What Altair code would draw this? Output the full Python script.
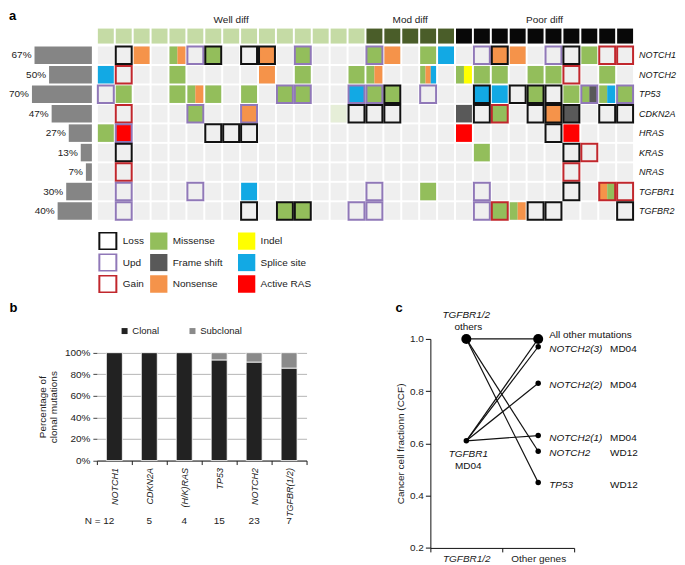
import altair as alt
import pandas as pd

FONT = "Liberation Sans"

# ---------------- panel a : oncoprint ----------------
genes = ["NOTCH1", "NOTCH2", "TP53", "CDKN2A", "HRAS", "KRAS", "NRAS", "TGFBR1", "TGFBR2"]
gene_pct = [67, 50, 70, 47, 27, 13, 7, 30, 40]
groups = ["Well diff", "Mod diff", "Poor diff"]
group_sizes = [15, 5, 10]

mut_names = {"M": "Missense", "N": "Nonsense", "S": "Splice site",
             "F": "Frame shift", "I": "Indel", "R": "Active RAS"}
cnv_names = {"L": "Loss", "U": "Upd", "G": "Gain"}

# column index -> mutation codes (several letters = split cell, "P" = faint call)
NOTCH1_mut = {2: "N", 4: "MN", 6: "M", 9: "N", 11: "M", 15: "M", 16: "N", 18: "M", 19: "S",
              22: "N", 23: "N", 27: "M"}
NOTCH2_mut = {0: "S", 4: "M", 9: "N", 11: "M", 14: "M", 15: "MN", 18: "MNS", 20: "MI", 21: "M",
              22: "M", 24: "M", 25: "M", 28: "M"}
TP53_mut = {1: "M", 4: "M", 5: "MN", 6: "M", 8: "M", 10: "M", 11: "M", 14: "S", 15: "M", 16: "M",
            21: "S", 22: "S", 24: "M", 26: "M", 27: "MF", 28: "MS", 29: "M"}
CDKN2A_mut = {5: "M", 8: "N", 13: "P", 20: "F", 22: "M", 25: "N", 26: "F"}
HRAS_mut = {0: "M", 1: "R", 20: "R", 26: "R"}
KRAS_mut = {21: "M"}
NRAS_mut = {}
TGFBR1_mut = {8: "S", 18: "M", 28: "NM"}
TGFBR2_mut = {10: "M", 11: "M", 22: "M", 23: "MN"}

# column index -> copy-number state
NOTCH1_cnv = {1: "L", 5: "U", 6: "L", 8: "L", 9: "L", 11: "U", 15: "U", 21: "U", 22: "L", 25: "U",
              26: "L", 28: "G", 29: "G"}
NOTCH2_cnv = {1: "G", 26: "G"}
TP53_cnv = {0: "U", 10: "U", 11: "U", 14: "U", 15: "U", 16: "L", 18: "U", 21: "L", 23: "L", 24: "L",
            25: "L", 27: "U", 29: "U"}
CDKN2A_cnv = {1: "G", 5: "U", 8: "U", 14: "L", 15: "L", 16: "L", 21: "L", 22: "G", 24: "L", 25: "L",
              26: "L", 28: "L", 29: "L"}
HRAS_cnv = {1: "U", 6: "L", 7: "L", 8: "L", 25: "L"}
KRAS_cnv = {1: "L", 26: "L", 27: "G"}
NRAS_cnv = {1: "G", 26: "G"}
TGFBR1_cnv = {1: "U", 5: "U", 15: "U", 21: "U", 26: "L", 28: "G", 29: "G"}
TGFBR2_cnv = {1: "U", 8: "L", 10: "L", 11: "L", 14: "U", 15: "U", 21: "U", 22: "G", 24: "L", 25: "L",
              29: "L"}

mut_by_gene = [NOTCH1_mut, NOTCH2_mut, TP53_mut, CDKN2A_mut, HRAS_mut, KRAS_mut, NRAS_mut,
               TGFBR1_mut, TGFBR2_mut]
cnv_by_gene = [NOTCH1_cnv, NOTCH2_cnv, TP53_cnv, CDKN2A_cnv, HRAS_cnv, KRAS_cnv, NRAS_cnv,
               TGFBR1_cnv, TGFBR2_cnv]

fill_order = ["Missense", "Frame shift", "Nonsense", "Indel", "Splice site", "Active RAS"]
fill_colors = ["#93be5b", "#595959", "#f5934a", "#ffff00", "#12a9e4", "#ff0000"]
cnv_order = ["Loss", "Upd", "Gain"]
cnv_colors = ["#111111", "#9078b8", "#c1272d"]
group_colors = ["#c5dba5", "#4a5d29", "#080808"]

# ---------------- panel b ----------------
b_genes = ["NOTCH1", "CDKN2A", "(H/K)RAS", "TP53", "NOTCH2", "TGFBR(1/2)"]
b_clonal = [100, 100, 100, 93.3, 91.3, 85.7]
b_subclonal = [0, 0, 0, 6.7, 8.7, 14.3]
b_n = [12, 5, 4, 15, 23, 7]

# ---------------- panel c ----------------
left_cat = "TGFBR1/2"
right_cat = "Other genes"
left_ccf = [1.0, 0.61]
left_name = ["TGFBR1/2", "TGFBR1"]
left_sub = ["others", "MD04"]
left_kind = ["group", "single"]
right_ccf = [1.0, 0.97, 0.83, 0.63, 0.57, 0.45]
right_name = ["All other mutations", "NOTCH2(3)", "NOTCH2(2)", "NOTCH2(1)", "NOTCH2", "TP53"]
right_sample = ["", "MD04", "MD04", "MD04", "WD12", "WD12"]
right_kind = ["group", "single", "single", "single", "single", "single"]
links = [(0, 0), (0, 4), (0, 5), (1, 0), (1, 1), (1, 2), (1, 3)]

# ================= build tables =================
n_cols = sum(group_sizes)
bg_df = pd.DataFrame([{"row": r, "col": c} for r in range(len(genes)) for c in range(n_cols)])
hdr, start = [], 0
grp_rows = []
for g, n in zip(groups, group_sizes):
    grp_rows.append({"group": g, "center": start + n / 2, "row": -1})
    for c in range(start, start + n):
        hdr.append({"col": c, "group": g, "row": -1})
    start += n
hdr_df = pd.DataFrame(hdr)
grp_df = pd.DataFrame(grp_rows)

stripes, faint, cnvs = [], [], []
for r, (m, cv) in enumerate(zip(mut_by_gene, cnv_by_gene)):
    for col, codes in m.items():
        if codes == "P":
            faint.append({"row": r, "col": col})
            continue
        for k, ch in enumerate(codes):
            stripes.append({"row": r, "col": col, "part": k, "nparts": len(codes),
                            "type": mut_names[ch]})
    for col, code in cv.items():
        cnvs.append({"row": r, "col": col, "cnv": cnv_names[code]})
stripe_df = pd.DataFrame(stripes)
faint_df = pd.DataFrame(faint)
cnv_df = pd.DataFrame(cnvs)
gene_df = pd.DataFrame({"gene": genes, "row": list(range(len(genes))), "pct": gene_pct,
                        "ncol": n_cols})

CX, RY = 0.055, 0.05
W_A = 538
H_A = 208.65
xs = alt.Scale(domain=[0, n_cols], nice=False, zero=False)
ys = alt.Scale(domain=[-1.7, 9.0], nice=False, zero=False, reverse=True)
# percentage bars sit left of the grid, growing leftwards
pxs = alt.Scale(domain=[0, 75], range=[-5, -69.3], nice=False, zero=False)

cell_calc = dict(x0=f"datum.col + {CX}", x1=f"datum.col + 1 - {CX}",
                 y0=f"datum.row + {RY}", y1=f"datum.row + 1 - {RY}")


def rect_enc():
    return dict(x=alt.X("x0:Q", scale=xs, axis=None), x2="x1:Q",
                y=alt.Y("y0:Q", scale=ys, axis=None), y2="y1:Q")


bg = alt.Chart(bg_df).transform_calculate(**cell_calc).mark_rect(color="#efefef").encode(**rect_enc())
header = alt.Chart(hdr_df).transform_calculate(
    x0=f"datum.col + {CX}", x1=f"datum.col + 1 - {CX}", y0="datum.row + 0.13", y1="datum.row + 0.9"
).mark_rect().encode(
    **rect_enc(),
    color=alt.Color("group:N", scale=alt.Scale(domain=groups, range=group_colors), legend=None))
faint_l = alt.Chart(faint_df).transform_calculate(**cell_calc).mark_rect(color="#e6eed8").encode(**rect_enc())
stripe_l = alt.Chart(stripe_df).transform_calculate(
    x0=f"datum.col + {CX} + {1 - 2 * CX} * datum.part / datum.nparts",
    x1=f"datum.col + {CX} + {1 - 2 * CX} * (datum.part + 1) / datum.nparts",
    y0=f"datum.row + {RY}", y1=f"datum.row + 1 - {RY}"
).mark_rect().encode(
    **rect_enc(),
    color=alt.Color("type:N", scale=alt.Scale(domain=fill_order, range=fill_colors),
                    legend=alt.Legend(title=None, orient="none", legendX=53, legendY=220, columns=2,
                                      symbolType="square", symbolSize=300, symbolStrokeWidth=0,
                                      clipHeight=18, rowPadding=3.5, columnPadding=14,
                                      labelOffset=5, labelFontSize=10, labelColor="#222")))
border_l = alt.Chart(cnv_df).transform_calculate(**cell_calc).mark_rect(
    filled=False, strokeWidth=2).encode(
    **rect_enc(),
    stroke=alt.Stroke("cnv:N", scale=alt.Scale(domain=cnv_order, range=cnv_colors),
                      legend=alt.Legend(title=None, orient="none", legendX=1, legendY=220,
                                        symbolType="square", symbolSize=290, symbolStrokeWidth=2,
                                        clipHeight=18, rowPadding=3.5, labelOffset=5,
                                        labelFontSize=10, labelColor="#222")))
gene_txt = alt.Chart(gene_df).transform_calculate(yc="datum.row + 0.5").mark_text(
    align="left", baseline="middle", dx=5, fontStyle="italic", fontSize=9, color="#111"
).encode(x=alt.X("ncol:Q", scale=xs, axis=None), y=alt.Y("yc:Q", scale=ys, axis=None), text="gene:N")
grp_txt = alt.Chart(grp_df).transform_calculate(yt="datum.row + 0.13").mark_text(
    align="center", baseline="alphabetic", dy=-6, fontSize=10, color="#222"
).encode(x=alt.X("center:Q", scale=xs, axis=None), y=alt.Y("yt:Q", scale=ys, axis=None),
         text="group:N")

pct_base = alt.Chart(gene_df).transform_calculate(
    y0=f"datum.row + {RY}", y1=f"datum.row + 1 - {RY}", yc="datum.row + 0.5",
    lab="datum.pct + '%'")
pct_bars = pct_base.mark_rect(color="#858585").encode(
    x=alt.X("pct:Q", scale=pxs, axis=None), x2=alt.datum(0),
    y=alt.Y("y0:Q", scale=ys, axis=None), y2="y1:Q")
pct_txt = pct_base.mark_text(align="right", baseline="middle", dx=-3, fontSize=10, color="#222").encode(
    x=alt.X("pct:Q", scale=pxs, axis=None), y=alt.Y("yc:Q", scale=ys, axis=None), text="lab:N")

top = alt.layer(bg, header, faint_l, stripe_l, border_l, gene_txt, grp_txt, pct_bars, pct_txt
                ).resolve_scale(color="independent", x="independent").properties(
    width=W_A, height=H_A, title=alt.Title("a", anchor="start", offset=-11))

# ================= panel b =================
b_rows = []
for i, g in enumerate(b_genes):
    nl = f"N = {b_n[i]}" if i == 0 else str(b_n[i])
    b_rows.append({"gene": g, "nlab": nl, "kind": "Clonal", "kord": 0, "value": b_clonal[i]})
    b_rows.append({"gene": g, "nlab": nl, "kind": "Subclonal", "kord": 1, "value": b_subclonal[i]})
b_df = pd.DataFrame(b_rows)
b_nlabs = [f"N = {b_n[0]}"] + [str(v) for v in b_n[1:]]

H_B = 121.8
band = alt.Scale(type="band", paddingInner=0, paddingOuter=0)
b_yaxis = alt.Axis(values=[0, 20, 40, 60, 80, 100], labelExpr="datum.value + '%'",
                   title=["Percentage of", "clonal mutations"], titleFontWeight="normal",
                   titleFontSize=10, titleLineHeight=11, titlePadding=6, labelOverlap=False,
                   gridColor="#b5b5b5", domain=False, tickSize=4, tickColor="#444",
                   labelPadding=3, labelFontSize=10, labelColor="#222", titleColor="#222")
# plot area shares its top with panel c; the 0-100 % range starts 14 px lower
b_yscale = alt.Scale(domain=[0, 100], range=[H_B, 13.8], nice=False, zero=True)
b_bars = alt.Chart(b_df).transform_filter("datum.value > 0").mark_bar(
    size=16, stroke="white", strokeWidth=0.8).encode(
    x=alt.X("gene:N", sort=b_genes, scale=band,
            axis=alt.Axis(orient="bottom", title=None, labelAngle=-90, labelFontStyle="italic",
                          tickBand="extent", tickSize=4, tickColor="#222", domainColor="#222",
                          labelPadding=3, labelFontSize=9, labelColor="#222")),
    y=alt.Y("value:Q", stack="zero", scale=b_yscale, axis=b_yaxis),
    color=alt.Color("kind:N", scale=alt.Scale(domain=["Clonal", "Subclonal"],
                                              range=["#222222", "#8a8a8a"]),
                    legend=alt.Legend(title=None, orient="none", direction="horizontal",
                                      legendX=23, legendY=-13, symbolType="square", symbolSize=36,
                                      symbolStrokeWidth=0, labelOffset=3, columnPadding=28,
                                      labelFontSize=9.5, labelColor="#222")),
    order=alt.Order("kord:Q"))
b_nrow = alt.Chart(b_df).transform_filter("datum.kord == 0").mark_bar(size=16, opacity=0).encode(
    x=alt.X("nlab:N", sort=b_nlabs, scale=band,
            axis=alt.Axis(orient="bottom", offset=55, domain=False, ticks=False, labelAngle=0,
                          title=None, labelPadding=0, labelFontSize=10, labelColor="#222",
                          labelAlign={"condition": {"test": "datum.value == 'N = 12'",
                                                    "value": "right"}, "value": "center"})),
    y=alt.Y("value:Q", scale=b_yscale, axis=b_yaxis))
panel_b = alt.layer(b_bars, b_nrow).resolve_scale(x="independent").properties(
    width=210, height=H_B, title=alt.Title("b", anchor="start", offset=11, dx=-28))

# ================= panel c =================
line_rows = []
for k, (li, ri) in enumerate(links):
    line_rows.append({"link": k, "cat": left_cat, "ccf": left_ccf[li]})
    line_rows.append({"link": k, "cat": right_cat, "ccf": right_ccf[ri]})
line_df = pd.DataFrame(line_rows)
left_df = pd.DataFrame({"cat": left_cat, "ccf": left_ccf, "name": left_name, "sub": left_sub,
                        "kind": left_kind, "idx": [0, 1]})
right_df = pd.DataFrame({"cat": right_cat, "ccf": right_ccf, "name": right_name,
                         "sample": right_sample, "kind": right_kind,
                         "idx": list(range(len(right_ccf)))})
pts_df = pd.concat([left_df[["cat", "ccf", "kind"]], right_df[["cat", "ccf", "kind"]]])

cx = alt.X("cat:N", sort=[left_cat, right_cat], scale=band,
           axis=alt.Axis(title=None, labelAngle=0, tickBand="extent", tickSize=4, tickColor="#111",
                         domainColor="#111", labelPadding=2, labelFontSize=10, labelColor="#222",
                         labelFontStyle={"condition": {"test": f"datum.value == '{left_cat}'",
                                                       "value": "italic"}, "value": "normal"}))
cy = alt.Y("ccf:Q", scale=alt.Scale(domain=[0.2, 1.0], nice=False, zero=False),
           axis=alt.Axis(values=[0.2, 0.4, 0.6, 0.8, 1.0], format=".1f",
                         title="Cancer cell fractionn (CCF)", titleFontWeight="normal",
                         titleFontSize=10, titlePadding=4, grid=False, tickSize=5,
                         tickColor="#111", domainColor="#111", labelPadding=2, labelFontSize=10,
                         labelColor="#222", titleColor="#222"))

c_lines = alt.Chart(line_df).mark_line(color="#111", strokeWidth=1.2).encode(
    x=cx, y=cy, detail="link:N")
c_pts = alt.Chart(pts_df).mark_circle(color="#000", opacity=1).encode(
    x=cx, y=cy, size=alt.Size("kind:N", scale=alt.Scale(domain=["group", "single"], range=[100, 30]),
                              legend=None))
r_names = alt.Chart(right_df).transform_filter("datum.idx > 0").mark_text(
    align="left", baseline="middle", dx=11, dy=2, fontStyle="italic", fontSize=10, color="#111"
).encode(x=cx, y=cy, text="name:N")
r_samples = alt.Chart(right_df).transform_filter("datum.idx > 0").mark_text(
    align="left", baseline="middle", dx=72, dy=2, fontSize=10, color="#111"
).encode(x=cx, y=cy, text="sample:N")
r_all = alt.Chart(right_df).transform_filter("datum.idx == 0").mark_text(
    align="left", baseline="middle", dx=11, dy=-4, fontSize=10, color="#111"
).encode(x=cx, y=cy, text="name:N")
l_top1 = alt.Chart(left_df).transform_filter("datum.idx == 0").mark_text(
    align="center", baseline="middle", dy=-24, fontStyle="italic", fontSize=10, color="#111"
).encode(x=cx, y=cy, text="name:N")
l_top2 = alt.Chart(left_df).transform_filter("datum.idx == 0").mark_text(
    align="center", baseline="middle", dy=-12, dx=2, fontSize=10, color="#111"
).encode(x=cx, y=cy, text="sub:N")
l_bot1 = alt.Chart(left_df).transform_filter("datum.idx == 1").mark_text(
    align="center", baseline="middle", dy=13, dx=2, fontStyle="italic", fontSize=10, color="#111"
).encode(x=cx, y=cy, text="name:N")
l_bot2 = alt.Chart(left_df).transform_filter("datum.idx == 1").mark_text(
    align="center", baseline="middle", dy=25, dx=2, fontSize=10, color="#111"
).encode(x=cx, y=cy, text="sub:N")

panel_c = alt.layer(c_lines, c_pts, r_names, r_samples, r_all, l_top1, l_top2, l_bot1, l_bot2
                    ).properties(width=144, height=209.3,
                                 title=alt.Title("c", anchor="start", offset=-5))

bottom = alt.hconcat(panel_b, panel_c, spacing=88).resolve_scale(
    color="independent", size="independent").resolve_legend(
    color="independent", size="independent")

chart = alt.vconcat(top, bottom, spacing=9).resolve_scale(
    color="independent", stroke="independent", size="independent").resolve_legend(
    color="independent", stroke="independent", size="independent").configure(
    font=FONT, padding={"left": 0, "top": 2, "right": 0, "bottom": 0}
).configure_view(stroke=None).configure_title(
    font=FONT, fontSize=13, fontWeight="bold", anchor="start", color="#000"
).configure_axis(labelFont=FONT, titleFont=FONT).configure_legend(labelFont=FONT)

chart.save("out.html", embed_options={"renderer": "svg", "actions": False})
